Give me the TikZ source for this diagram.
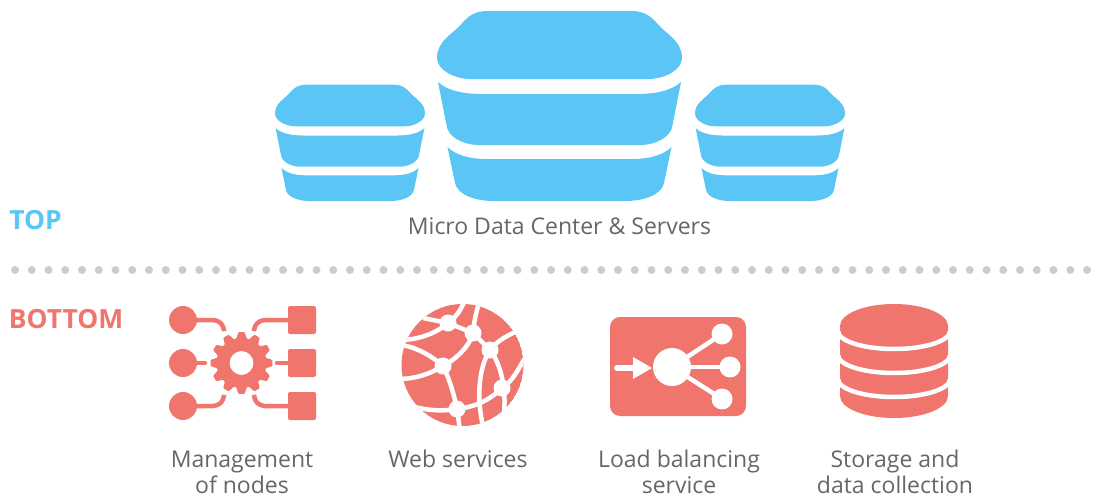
\documentclass[tikz,border=0pt]{standalone}
\usepackage{fontspec}
\setmainfont{Open Sans}
\usepackage{xcolor}
\usetikzlibrary{positioning, calc}
\definecolor{topblue}{HTML}{5BC5F5}
\definecolor{bottomred}{HTML}{EF756D}
\definecolor{labelgray}{HTML}{666666}
\definecolor{dotgray}{HTML}{CCCCCC}

\begin{document}
\begin{tikzpicture}[
    x=1pt, y=-1pt,
    label/.style={font=\fontsize{23}{26}\selectfont, text=labelgray, align=center, inner sep=0pt},
    tier/.style={font=\fontsize{26.4}{28}\selectfont\bfseries, inner sep=0pt},
    wire/.style={draw=bottomred, line width=4.5pt, line cap=round, rounded corners=11pt},
    net/.style={draw=white, line width=4.5pt},
    server/.pic={
        \fill[topblue] (-72,-190) -- (72,-190) .. controls (86,-190) and (92,-184) .. (99,-176)
            .. controls (107,-167) and (122.5,-160) .. (122.5,-143) .. controls (122.5,-131) and (105,-122) .. (89,-122)
            -- (-89,-122) .. controls (-105,-122) and (-122.5,-131) .. (-122.5,-143)
            .. controls (-122.5,-160) and (-107,-167) .. (-99,-176) .. controls (-92,-184) and (-86,-190) .. (-72,-190) -- cycle;
        \fill[topblue] (-121.5,-119) .. controls (-112,-110) and (-95,-107) .. (-77,-107) -- (77,-107)
            .. controls (95,-107) and (112,-110) .. (121.5,-119) -- (113,-76) .. controls (112,-64) and (96,-56) .. (81,-56)
            -- (-81,-56) .. controls (-96,-56) and (-112,-64) .. (-113,-76) -- cycle;
        \fill[topblue] (-112,-54) .. controls (-104,-46) and (-90,-42) .. (-73,-42) -- (73,-42)
            .. controls (90,-42) and (104,-46) .. (112,-54) -- (104.5,-18) .. controls (102,-6) and (84,0) .. (66,0)
            -- (-66,0) .. controls (-84,0) and (-102,-6) .. (-104.5,-18) -- cycle;
    }
]
    \useasboundingbox (0,0) rectangle (1102,495);

    % Servers
    \pic at (559.5,201) {server};
    \pic[scale=0.612] at (350,201) {server};
    \pic[scale=0.612] at (770,201) {server};

    % Labels of the upper part
    \node [label] (micro) at (559.5,226) {Micro Data Center \& Servers};
    \node [tier, text=topblue] (top) at (35.5,220) {TOP};

    % Dotted divider
    \foreach \i in {0,...,64}
        \fill[dotgray] ({15+16.75*\i},270) circle (4);

    \node [tier, text=bottomred] (bottom) at (66,319) {BOTTOM};

    % Management icon
    \foreach \y in {320,363,406} {
        \fill[bottomred] (183,\y) circle (14);
        \fill[bottomred, rounded corners=2pt] (288,\y-14) rectangle (316,\y+14);
    }
    \draw[wire] (183,320) -- (224,320) -- (224,330);
    \draw[wire] (183,363) -- (205,363);
    \draw[wire] (183,406) -- (224,406) -- (224,396);
    \draw[wire] (302,320) -- (254,320) -- (254,330);
    \draw[wire] (302,363) -- (277,363);
    \draw[wire] (302,406) -- (254,406) -- (254,396);
    \fill[bottomred, even odd rule] plot[samples at={0,2.5,...,357.5}]
        ({241.5+(28+3*max(-1,min(1,1.8*cos(12*\x)+0.4)))*cos(\x)},{363+(28+3*max(-1,min(1,1.8*cos(12*\x)+0.4)))*sin(\x)})
        -- cycle (241.5,363) circle (12);

    % Web services icon
    \begin{scope}
        \clip (462.5,365) circle (61);
        \fill[bottomred] (462.5,365) circle (61);
        \coordinate (na) at (448,323);
        \coordinate (nb) at (473,333);
        \coordinate (nc) at (490,350);
        \coordinate (nd) at (443,366);
        \coordinate (ne) at (502,388);
        \coordinate (nf) at (457,409);
        \draw[net] (465,300) .. controls (460,312) and (455,318) .. (na);
        \draw[net] (423,318) -- (na);
        \draw[net] (400,340) .. controls (420,340) and (438,332) .. (na) -- (nb) -- (nc);
        \draw[net] (480,300) .. controls (476,312) and (474,322) .. (nb);
        \draw[net] (nb) .. controls (470,345) and (458,358) .. (nd);
        \draw[net] (402,345) .. controls (418,348) and (432,356) .. (nd);
        \draw[net] (398,379) .. controls (415,379) and (430,374) .. (nd);
        \draw[net] (nd) .. controls (450,380) and (454,395) .. (nf);
        \draw[net] (415,407) .. controls (430,411) and (445,411) .. (nf);
        \draw[net] (nf) -- (460,430);
        \draw[net] (nf) .. controls (475,407) and (490,400) .. (ne);
        \draw[net] (nc) .. controls (480,365) and (475,395) .. (484,430);
        \draw[net] (nc) .. controls (500,362) and (508,390) .. (503,420);
        \draw[net] (nc) .. controls (498,340) and (508,335) .. (520,330);
        \draw[net] (ne) .. controls (512,382) and (518,370) .. (526,356);
        \foreach \n in {na,nb,nc,nd,ne,nf}
            \fill[white] (\n) circle (8.5);
    \end{scope}

    % Load balancing icon
    \fill[bottomred, rounded corners=10pt] (610,317) rectangle (746,416);
    \fill[white] (672,367) circle (19);
    \draw[white, line width=4.5pt] (672,367) -- (722,334);
    \draw[white, line width=4.5pt] (672,367) -- (730,367);
    \draw[white, line width=4.5pt] (672,367) -- (722,399);
    \fill[white] (722,334) circle (10.5);
    \fill[white] (730,367) circle (10.5);
    \fill[white] (722,399) circle (10.5);
    \draw[white, line width=6pt, line cap=round] (617,368) -- (635,368);
    \fill[white] (633,357) -- (652,368) -- (633,379) -- cycle;

    % Storage icon
    \fill[bottomred] (840,326) -- (840,396) arc[start angle=180, end angle=360, x radius=54, y radius=-22]
        -- (948,326) arc[start angle=0, end angle=180, x radius=54, y radius=-22] -- cycle;
    \foreach \y in {331,355,379}
        \draw[white, line width=4.5pt] (838,\y) arc[start angle=180, end angle=360, x radius=56, y radius=-18];

    % Labels of the lower part
    \node [label] (manage) at (242,472) {Management\\of nodes};
    \node [label] (web) at (458,459) {Web services};
    \node [label] (load) at (679,472) {Load balancing\\service};
    \node [label] (storage) at (895,472) {Storage and\\data collection};
\end{tikzpicture}
\end{document}
